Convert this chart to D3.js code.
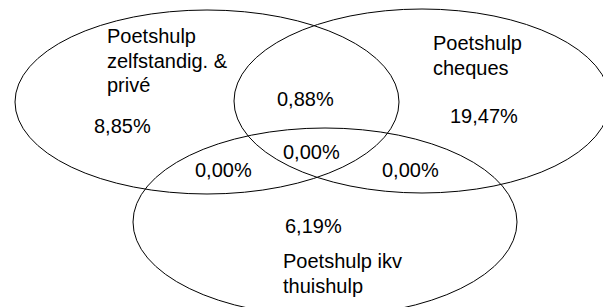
<!DOCTYPE html>
<html>
<head>
<meta charset="utf-8">
<script src="https://cdn.jsdelivr.net/npm/d3@7"></script>
<style>
  html, body { margin: 0; padding: 0; background: #fff; }
  svg { display: block; }
  text { font-family: "Liberation Sans", Arial, sans-serif; fill: #000; }
</style>
</head>
<body>
<script>
// ---- data ----
const setKeys = ["zelfstandig", "cheques", "thuishulp"];
const setLabels = [
  ["Poetshulp", "zelfstandig. &", "privé"],
  ["Poetshulp", "cheques"],
  ["Poetshulp ikv", "thuishulp"]
];
const regionKeys = ["Z", "C", "T", "ZC", "ZCT", "ZT", "CT"];
const regionValues = [8.85, 19.47, 6.19, 0.88, 0.00, 0.00, 0.00];

// ---- layout (pixel geometry, separate from data) ----
const W = 603, H = 307;
const ellipses = {
  zelfstandig: { cx: 207, cy: 102, rx: 192, ry: 92 },
  cheques:     { cx: 422, cy: 101, rx: 188, ry: 92 },
  thuishulp:   { cx: 325, cy: 222, rx: 192, ry: 94 }
};
const setLabelPos = {
  zelfstandig: { x: 107, y: 43 },
  cheques:     { x: 433, y: 50 },
  thuishulp:   { x: 283, y: 268 }
};
const regionPos = {
  Z:   { x: 94,  y: 133 },
  C:   { x: 450, y: 123 },
  T:   { x: 285, y: 233 },
  ZC:  { x: 277, y: 106 },
  ZCT: { x: 283, y: 159 },
  ZT:  { x: 195, y: 177 },
  CT:  { x: 382, y: 177 }
};
const fontSize = 20, lineH = 24.5;

const locale = d3.formatLocale({ decimal: ",", thousands: ".", grouping: [3], currency: ["", "€"] });
const fmt = v => locale.format(".2f")(v) + "%";

const svg = d3.select("body").append("svg")
  .attr("width", W).attr("height", H);

svg.append("g").selectAll("ellipse")
  .data(setKeys)
  .join("ellipse")
  .attr("cx", k => ellipses[k].cx)
  .attr("cy", k => ellipses[k].cy)
  .attr("rx", k => ellipses[k].rx)
  .attr("ry", k => ellipses[k].ry)
  .attr("fill", "none")
  .attr("stroke", "#000")
  .attr("stroke-width", 1);

const labels = svg.append("g").selectAll("text")
  .data(setKeys.map((k, i) => ({ k, lines: setLabels[i] })))
  .join("text")
  .attr("font-size", fontSize)
  .attr("x", d => setLabelPos[d.k].x)
  .attr("y", d => setLabelPos[d.k].y);
labels.selectAll("tspan")
  .data(d => d.lines.map((l, j) => ({ l, j, x: setLabelPos[d.k].x })))
  .join("tspan")
  .attr("x", d => d.x)
  .attr("dy", d => d.j === 0 ? 0 : lineH)
  .text(d => d.l);

svg.append("g").selectAll("text")
  .data(regionKeys.map((k, i) => ({ k, v: regionValues[i] })))
  .join("text")
  .attr("font-size", fontSize)
  .attr("x", d => regionPos[d.k].x)
  .attr("y", d => regionPos[d.k].y)
  .text(d => fmt(d.v));
</script>
</body>
</html>
